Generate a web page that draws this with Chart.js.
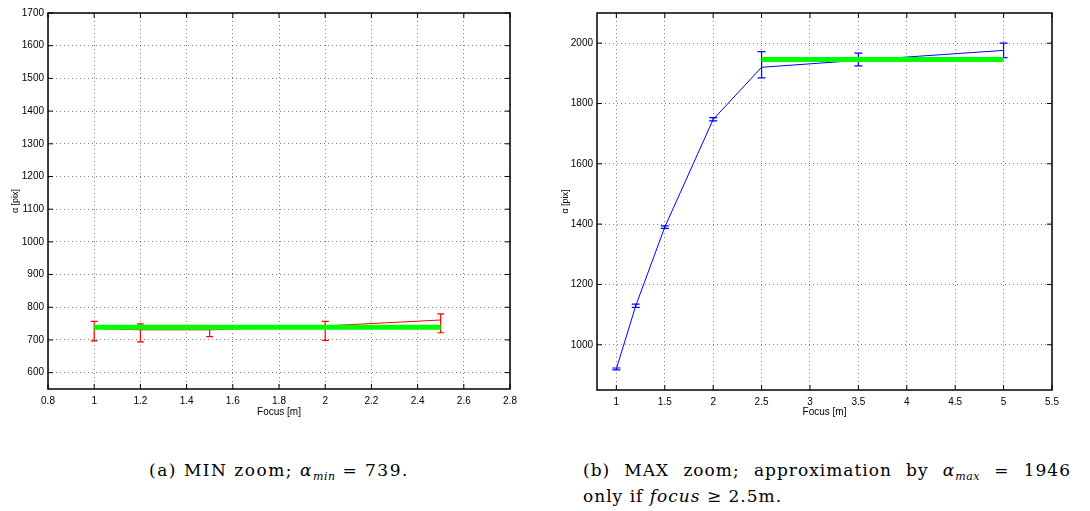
<!DOCTYPE html>
<html>
<head>
<meta charset="utf-8">
<script src="https://cdn.jsdelivr.net/npm/chart.js@4"></script>
<style>
  body { margin: 0; background: #fff; width: 1090px; height: 511px; position: relative; overflow: hidden; }
  .box { position: absolute; top: 0; height: 430px; }
  .cap { position: absolute; font-family: "DejaVu Serif", serif; font-size: 17px; letter-spacing: 1px; line-height: 20px; color: #000; white-space: nowrap; }
  .cap sub { font-size: 11px; line-height: 0; letter-spacing: 0.5px; }
</style>
</head>
<body>
<div class="box" style="left:0;width:540px"><canvas id="chart-a"></canvas></div>
<div class="box" style="left:540px;width:550px"><canvas id="chart-b"></canvas></div>
<div class="cap" style="left:0;width:558px;top:460px;text-align:center;letter-spacing:1.5px">(a) MIN zoom; <i>α</i><sub><i>min</i></sub> = 739.</div>
<div class="cap" style="left:583px;top:460px;width:488px;text-align:justify;text-align-last:justify;white-space:normal">(b) MAX zoom; approximation by <i>α</i><sub><i>max</i></sub> = 1946</div>
<div class="cap" style="left:583px;top:486px">only if <i>focus</i> ≥ 2.5m.</div>
<script>
// (a) MIN zoom
const minFocus = [1, 1.2, 1.5, 2, 2.5];
const minAlpha = [735, 731, 731, 743, 761];
const minLow = [697, 694, 710, 699, 722];
const minHigh = [757, 749, 744, 757, 780];
const minFit = 739;
const minFitFocus = [1, 2.5];
const minXTicks = [0.8, 1, 1.2, 1.4, 1.6, 1.8, 2, 2.2, 2.4, 2.6, 2.8];
const minYTicks = [600, 700, 800, 900, 1000, 1100, 1200, 1300, 1400, 1500, 1600, 1700];

// (b) MAX zoom
const maxFocus = [1, 1.2, 1.5, 2, 2.5, 3.5, 5];
const maxAlpha = [920, 1129, 1390, 1747, 1920, 1943, 1976];
const maxLow = [917, 1124, 1386, 1742, 1885, 1925, 1952];
const maxHigh = [923, 1135, 1394, 1753, 1972, 1967, 2000];
const maxFit = 1946;
const maxFitFocus = [2.5, 5];
const maxXTicks = [1, 1.5, 2, 2.5, 3, 3.5, 4, 4.5, 5, 5.5];
const maxYTicks = [1000, 1200, 1400, 1600, 1800, 2000];

const tickFont = { family: "'Liberation Sans', Arial, sans-serif", size: 10 };

function fmt(v) {
  return String(Math.round(v * 10) / 10);
}

function errorBars(xs, low, high, color, cap) {
  return {
    id: 'errorBars',
    beforeDatasetsDraw(chart) {
      const { ctx, scales: { x, y } } = chart;
      ctx.save();
      ctx.strokeStyle = color;
      ctx.lineWidth = 1.2;
      xs.forEach((v, i) => {
        const px = x.getPixelForValue(v);
        const top = y.getPixelForValue(high[i]);
        const bot = y.getPixelForValue(low[i]);
        ctx.beginPath();
        ctx.moveTo(px, top); ctx.lineTo(px, bot);
        ctx.moveTo(px - cap, top); ctx.lineTo(px + cap, top);
        ctx.moveTo(px - cap, bot); ctx.lineTo(px + cap, bot);
        ctx.stroke();
      });
      ctx.restore();
    }
  };
}

// box round the plot with inward tick marks, matlab style
const frame = {
  id: 'frame',
  afterDraw(chart) {
    const { ctx, chartArea: a, scales: { x, y } } = chart;
    ctx.save();
    ctx.strokeStyle = '#000';
    ctx.lineWidth = 1;
    ctx.beginPath();
    x.ticks.forEach(t => {
      const px = x.getPixelForValue(t.value);
      ctx.moveTo(px, a.bottom); ctx.lineTo(px, a.bottom - 5);
      ctx.moveTo(px, a.top); ctx.lineTo(px, a.top + 5);
    });
    y.ticks.forEach(t => {
      const py = y.getPixelForValue(t.value);
      ctx.moveTo(a.left, py); ctx.lineTo(a.left + 5, py);
      ctx.moveTo(a.right, py); ctx.lineTo(a.right - 5, py);
    });
    ctx.stroke();
    ctx.lineWidth = 1.5;
    ctx.strokeRect(a.left, a.top, a.right - a.left, a.bottom - a.top);
    ctx.restore();
  }
};

function makeChart(id, o) {
  const canvas = document.getElementById(id);
  const line = o.focus.map((f, i) => ({ x: f, y: o.alpha[i] }));
  const fit = o.fitFocus.map(f => ({ x: f, y: o.fit }));

  const config = {
    type: 'line',
    data: {
      datasets: [
        { label: 'fit', data: fit, borderColor: 'rgb(0,255,0)', borderWidth: 5, pointRadius: 0, order: 0 },
        { label: 'alpha', data: line, borderColor: o.color, borderWidth: 1, pointRadius: 0, order: 1 }
      ]
    },
    options: {
      responsive: true,
      maintainAspectRatio: false,
      animation: false,
      layout: { padding: { top: 13, right: o.right, left: 0, bottom: 0 } },
      plugins: { legend: { display: false }, tooltip: { enabled: false } },
      scales: {
        x: {
          type: 'linear',
          min: o.xMin,
          max: o.xMax,
          afterBuildTicks: s => { s.ticks = o.xTicks.map(v => ({ value: v })); },
          afterFit: s => { s.height = o.xHeight; },
          grid: { color: 'rgba(0,0,0,0.5)', drawTicks: false },
          border: { display: false, dash: [1, 3] },
          ticks: { padding: 6, color: '#000', font: tickFont, maxRotation: 0, autoSkip: false, callback: fmt },
          title: { display: true, text: 'Focus [m]', color: '#000', font: tickFont, padding: { top: 0, bottom: 12 } }
        },
        y: {
          min: o.yMin,
          max: o.yMax,
          afterBuildTicks: s => { s.ticks = o.yTicks.map(v => ({ value: v })); },
          afterFit: s => { s.width = o.yWidth; },
          grid: { color: 'rgba(0,0,0,0.5)', drawTicks: false },
          border: { display: false, dash: [1, 3] },
          ticks: { padding: 4, color: '#000', font: tickFont, autoSkip: false, callback: fmt },
          title: { display: true, text: 'α [pix]', color: '#000', font: { family: tickFont.family, size: 9 }, padding: { top: o.yTitlePad, bottom: 0 } }
        }
      }
    },
    plugins: [errorBars(o.focus, o.low, o.high, o.color, o.cap), frame]
  };

  return new Chart(canvas, config);
}

makeChart('chart-a', {
  focus: minFocus, alpha: minAlpha, low: minLow, high: minHigh,
  fit: minFit, fitFocus: minFitFocus, color: 'rgb(255,0,0)', cap: 3.5,
  xMin: 0.8, xMax: 2.8, yMin: 550, yMax: 1700,
  xTicks: minXTicks, yTicks: minYTicks,
  right: 30, yWidth: 48, xHeight: 41, yTitlePad: 10
});

makeChart('chart-b', {
  focus: maxFocus, alpha: maxAlpha, low: maxLow, high: maxHigh,
  fit: maxFit, fitFocus: maxFitFocus, color: 'rgb(0,0,255)', cap: 4,
  xMin: 0.8, xMax: 5.5, yMin: 850, yMax: 2100,
  xTicks: maxXTicks, yTicks: maxYTicks,
  right: 38, yWidth: 57, xHeight: 40, yTitlePad: 20
});
</script>
</body>
</html>
